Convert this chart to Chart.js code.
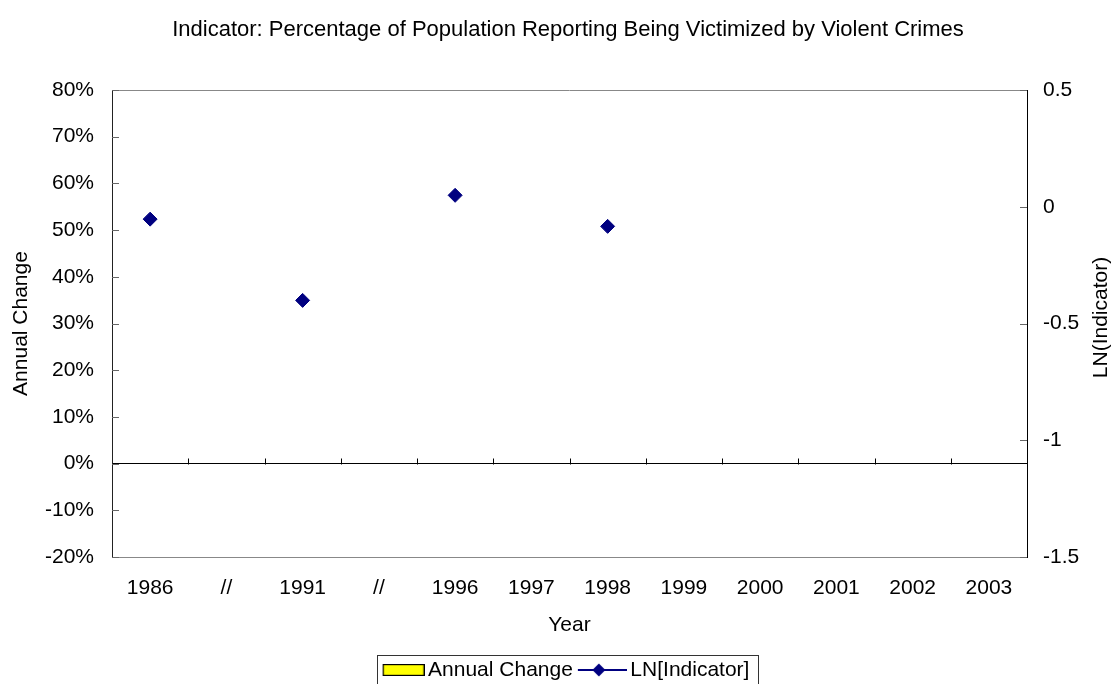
<!DOCTYPE html>
<html><head><meta charset="utf-8">
<script src="https://cdn.jsdelivr.net/npm/chart.js@4/dist/chart.umd.min.js"></script>
<style>html,body{margin:0;padding:0;background:#fff}canvas{display:block}</style>
</head><body>
<canvas id="c" width="1116" height="684"></canvas>
<script>
// Category labels along the year axis ("//" marks a break in the years)
const categories = ['1986', '//', '1991', '//', '1996', '1997', '1998', '1999', '2000', '2001', '2002', '2003'];
// Annual change (left axis, %): no values reported
const annualChange = [null, null, null, null, null, null, null, null, null, null, null, null];
// LN of the indicator (right axis)
const lnIndicator = [-0.053, null, -0.401, null, 0.049, null, -0.084, null, null, null, null, null];
// Axis tick values
const leftTickValues = [-20, -10, 0, 10, 20, 30, 40, 50, 60, 70, 80];
const rightTickValues = [-1.5, -1, -0.5, 0, 0.5];

const chartTitle = 'Indicator: Percentage of Population Reporting Being Victimized by Violent Crimes';
const leftAxisTitle = 'Annual Change';
const rightAxisTitle = 'LN(Indicator)';
const xAxisTitle = 'Year';

const FONT = '"Liberation Sans", Arial, sans-serif';
const NAVY = '#000080';

// Legend swatches: a yellow box and a line with a diamond marker
function swatch(draw) {
  const cv = document.createElement('canvas');
  cv.width = 56; cv.height = 16;
  draw(cv.getContext('2d'));
  return cv;
}
const barSwatch = swatch(s => {
  s.fillStyle = '#ffff00';
  s.fillRect(14, 2, 42, 12);
  s.strokeStyle = '#000';
  s.lineWidth = 1.2;
  s.strokeRect(14.6, 2.6, 40.8, 10.8);
});
const lineSwatch = swatch(s => {
  s.strokeStyle = NAVY;
  s.lineWidth = 2;
  s.beginPath(); s.moveTo(7, 8); s.lineTo(56, 8); s.stroke();
  s.fillStyle = NAVY;
  s.beginPath(); s.moveTo(28, 1.5); s.lineTo(34.5, 8); s.lineTo(28, 14.5); s.lineTo(21.5, 8); s.closePath(); s.fill();
});

// Plot frame, inward tick marks, category dividers on the zero line,
// right-hand axis title and the legend border
const frame = {
  id: 'frame',
  afterLayout(chart) {
    // nudge the legend slightly left of the canvas centre
    const lg = chart.legend;
    if (lg) { lg.left -= 5.5; lg.right -= 5.5; }
  },
  afterDraw(chart) {
    const {ctx, chartArea: a, scales: {x, y, y1}} = chart;
    ctx.save();
    ctx.lineWidth = 1;
    const seg = (x0, y0, xe, ye, col) => {
      ctx.strokeStyle = col; ctx.beginPath(); ctx.moveTo(x0, y0); ctx.lineTo(xe, ye); ctx.stroke();
    };
    const top = Math.round(a.top) + 0.5;
    seg(a.left, top, a.right, top, '#888');
    y.ticks.forEach(t => {
      const py = Math.round(y.getPixelForValue(t.value)) + 0.5;
      seg(a.left, py, a.left + 7, py, '#666');
    });
    y1.ticks.forEach(t => {
      const py = Math.round(y1.getPixelForValue(t.value)) + 0.5;
      seg(a.right - 7, py, a.right, py, '#666');
    });
    const zy = Math.round(y.getPixelForValue(0)) + 0.5;
    for (let i = 1; i < categories.length; i++) {
      const bx = Math.round((x.getPixelForValue(i - 1) + x.getPixelForValue(i)) / 2) + 0.5;
      seg(bx, zy - 6, bx, zy, '#000');
    }

    // legend border
    const lg = chart.legend;
    const hb = lg.legendHitBoxes;
    if (hb && hb.length) {
      const last = hb[hb.length - 1];
      const bl = Math.round(hb[0].left + 1) + 0.5;
      const br = Math.round(last.left + last.width + 9) + 0.5;
      const bt = Math.round(lg.top + lg.options.labels.padding + 10.5 - 15) + 0.5;
      ctx.strokeStyle = '#333';
      ctx.strokeRect(bl, bt, br - bl, 60);
    }

    // right axis title, reading upward
    ctx.fillStyle = '#000';
    ctx.font = '21px ' + FONT;
    ctx.textAlign = 'center';
    ctx.textBaseline = 'middle';
    ctx.translate(a.right + 74, (a.top + a.bottom) / 2 - 6);
    ctx.rotate(-Math.PI / 2);
    ctx.fillText(rightAxisTitle, 0, 0);
    ctx.restore();
  }
};

new Chart(document.getElementById('c'), {
  data: {
    labels: categories,
    datasets: [
      {
        type: 'bar',
        label: 'Annual Change',
        data: annualChange,
        yAxisID: 'y',
        backgroundColor: '#ffff00',
        borderColor: '#000',
        borderWidth: 1,
        order: 2
      },
      {
        type: 'line',
        label: 'LN[Indicator]',
        data: lnIndicator,
        yAxisID: 'y1',
        borderColor: NAVY,
        backgroundColor: NAVY,
        borderWidth: 2,
        pointStyle: 'rectRot',
        pointRadius: 7,
        pointHoverRadius: 7,
        pointBorderWidth: 1,
        pointBackgroundColor: NAVY,
        pointBorderColor: NAVY,
        spanGaps: false,
        fill: false,
        order: 1
      }
    ]
  },
  options: {
    responsive: false,
    animation: false,
    devicePixelRatio: 1,
    layout: {padding: {left: 20, right: 0, top: 0, bottom: -6.5}},
    plugins: {
      tooltip: {enabled: false},
      title: {
        display: true,
        text: chartTitle,
        color: '#000',
        font: {family: FONT, size: 22, weight: 'normal'},
        padding: {top: 17, bottom: 46.6}
      },
      legend: {
        display: true,
        position: 'bottom',
        labels: {
          color: '#000',
          font: {family: FONT, size: 21},
          usePointStyle: true,
          pointStyleWidth: 42,
          padding: 5,
          generateLabels: chart => chart.data.datasets.map((ds, i) => ({
            text: ds.label,
            pointStyle: i === 0 ? barSwatch : lineSwatch,
            fillStyle: ds.backgroundColor,
            strokeStyle: ds.borderColor,
            lineWidth: 0,
            hidden: false,
            datasetIndex: i
          }))
        }
      }
    },
    scales: {
      x: {
        type: 'category',
        offset: true,
        grid: {display: false, drawTicks: false},
        border: {display: true, color: '#888', width: 1},
        ticks: {color: '#000', font: {family: FONT, size: 21}, padding: 19.1, maxRotation: 0, autoSkip: false},
        title: {display: true, text: xAxisTitle, color: '#000', font: {family: FONT, size: 21}, padding: {top: 0, bottom: 16.9}},
        afterFit: s => { s.height = 97.5; }
      },
      y: {
        position: 'left',
        min: -20,
        max: 80,
        afterBuildTicks: s => { s.ticks = leftTickValues.map(v => ({value: v})); },
        grid: {
          drawTicks: false,
          color: c => (c.tick && c.tick.value === 0 ? '#000' : 'rgba(0,0,0,0)'),
          lineWidth: 1
        },
        border: {display: true, color: '#222', width: 1},
        ticks: {color: '#000', font: {family: FONT, size: 21}, padding: 18, callback: v => v + '%'},
        title: {display: true, text: leftAxisTitle, color: '#000', font: {family: FONT, size: 21}, padding: {top: -11, bottom: 0}},
        afterFit: s => { s.width = 92; }
      },
      y1: {
        position: 'right',
        min: -1.5,
        max: 0.5,
        afterBuildTicks: s => { s.ticks = rightTickValues.map(v => ({value: v})); },
        grid: {display: false, drawTicks: false},
        border: {display: true, color: '#000', width: 1},
        ticks: {color: '#000', font: {family: FONT, size: 21}, padding: 16, callback: v => String(v)},
        afterFit: s => { s.width = 89; }
      }
    }
  },
  plugins: [frame]
});
</script>
</body></html>
